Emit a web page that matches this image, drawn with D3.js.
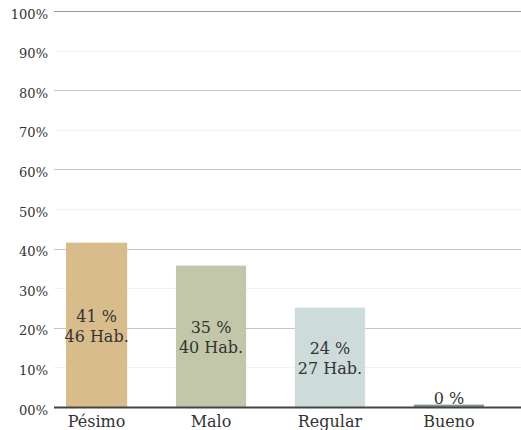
<!DOCTYPE html>
<html><head><meta charset="utf-8">
<script src="https://cdn.jsdelivr.net/npm/d3@7"></script>
<style>
html,body{margin:0;padding:0;background:#fff;}
text{font-family:Georgia,"DejaVu Serif",serif;fill:#333;}
</style></head>
<body>
<svg id="chart" width="521" height="430"></svg>
<script>
const categories = ["Pésimo","Malo","Regular","Bueno"];
const percentValues = [41.5, 35.7, 25.1, 0.6];
const percentLabels = ["41 %","35 %","24 %","0 %"];
const peopleLabels = ["46 Hab.","40 Hab.","27 Hab.",""];
const colors = ["#d9bc8c","#c3c7a9","#cddbdb","#7f9596"];
const yTicks = [0,10,20,30,40,50,60,70,80,90,100];
const yTickLabels = ["00%","10%","20%","30%","40%","50%","60%","70%","80%","90%","100%"];

const svg = d3.select("#chart");
const plotLeft = 54, plotRight = 521, barClipLeft = 66;
const y = d3.scaleLinear().domain([0,100]).range([407,11]);
const x = d3.scaleBand().domain(categories).range([57,484]).paddingInner(0.41).paddingOuter(0);

// gridlines
svg.append("g").selectAll("line").data(yTicks.filter(d=>d>0)).join("line")
  .attr("x1",plotLeft).attr("x2",plotRight)
  .attr("y1",d=>Math.round(y(d))+0.5).attr("y2",d=>Math.round(y(d))+0.5)
  .attr("stroke",d=> d===100 ? "#9a9a9a" : (d%20===0 ? "#c4c4c4" : "#f2f2f2"))
  .attr("stroke-width",1);

// y labels
svg.append("g").selectAll("text").data(yTicks).join("text")
  .attr("x",48).attr("y",d=>y(d)+7.5)
  .attr("text-anchor","end").attr("font-size",13)
  .text((d,i)=>yTickLabels[i]);

// bars
const bx0 = (d)=>Math.max(x(d), barClipLeft);
const bx1 = (d)=>x(d)+x.bandwidth();
svg.append("g").selectAll("rect").data(categories).join("rect")
  .attr("x",d=>bx0(d)).attr("width",d=>bx1(d)-bx0(d))
  .attr("y",(d,i)=>y(percentValues[i])).attr("height",(d,i)=>y(0)-y(percentValues[i]))
  .attr("fill",(d,i)=>colors[i]);

// baseline
svg.append("line").attr("x1",plotLeft).attr("x2",plotRight)
  .attr("y1",y(0)+0.5).attr("y2",y(0)+0.5).attr("stroke","#444").attr("stroke-width",2);

// bar labels
const g = svg.append("g");
categories.forEach((c,i)=>{
  const cx = (bx0(c)+bx1(c))/2;
  const mid = (y(percentValues[i])+y(0))/2;
  if (peopleLabels[i]) {
    g.append("text").attr("x",cx).attr("y",mid-3).attr("text-anchor","middle").attr("font-size",16).text(percentLabels[i]);
    g.append("text").attr("x",cx).attr("y",mid+17).attr("text-anchor","middle").attr("font-size",16).text(peopleLabels[i]);
  } else {
    g.append("text").attr("x",cx).attr("y",y(percentValues[i])-1).attr("text-anchor","middle").attr("font-size",16).text(percentLabels[i]);
  }
});

// x labels
svg.append("g").selectAll("text").data(categories).join("text")
  .attr("x",d=>(bx0(d)+bx1(d))/2).attr("y",427)
  .attr("text-anchor","middle").attr("font-size",16)
  .text(d=>d);
</script>
</body></html>
